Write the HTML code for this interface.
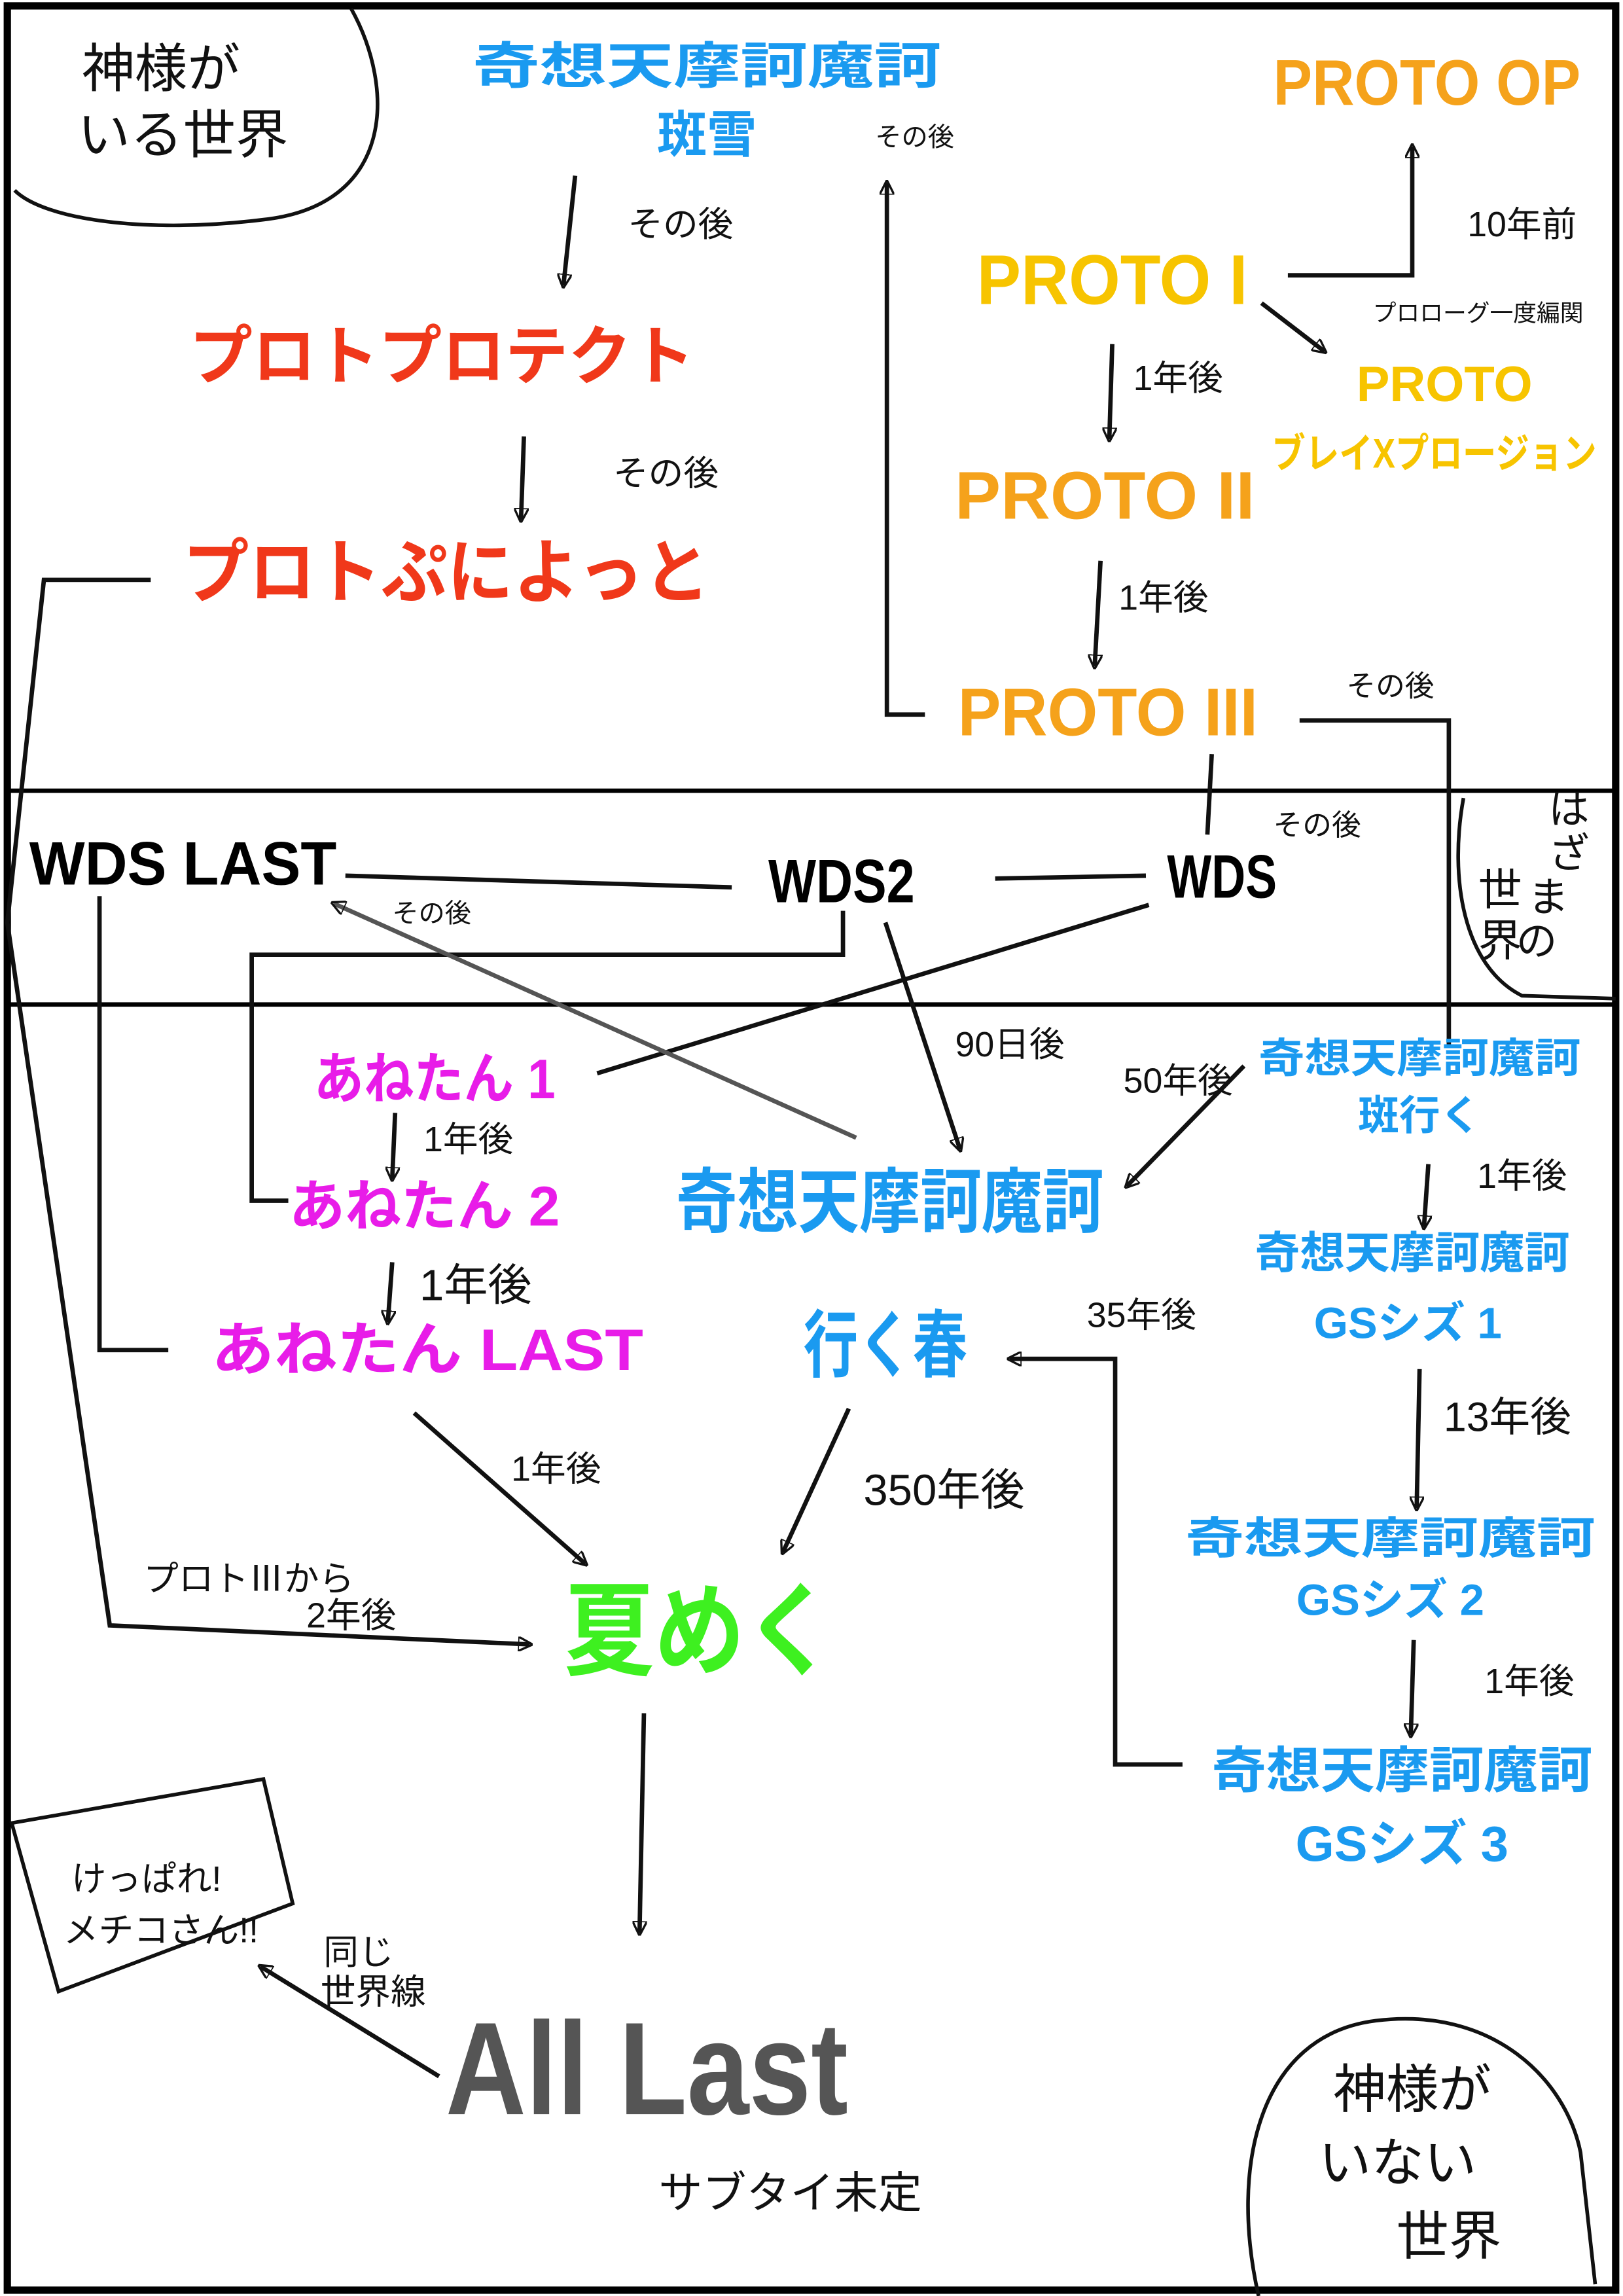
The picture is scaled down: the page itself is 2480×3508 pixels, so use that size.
<!DOCTYPE html>
<html><head><meta charset="utf-8"><style>
html,body{margin:0;padding:0;background:#fff}
svg{display:block}
text{font-family:"Liberation Sans","Noto Sans CJK JP",sans-serif;font-weight:bold;text-anchor:middle;dominant-baseline:middle}
.h{font-weight:normal;fill:#111}
</style></head><body>
<svg width="2480" height="3508" viewBox="0 0 1109 1568" preserveAspectRatio="none" xmlns="http://www.w3.org/2000/svg">
<defs><marker id="a" markerWidth="10" markerHeight="10" refX="8" refY="5" orient="auto" markerUnits="userSpaceOnUse"><path d="M0,0 L10,5 L0,10 Z" fill="none" stroke="#111" stroke-width="1.5"/></marker></defs>
<rect x="0" y="0" width="1109" height="1568" fill="#fff"/>
<rect x="5" y="4" width="1099" height="1560" fill="none" stroke="#000" stroke-width="5"/>
<line x1="5" y1="540" x2="1104" y2="540" stroke="#000" stroke-width="3"/>
<line x1="5" y1="686" x2="1104" y2="686" stroke="#000" stroke-width="3"/>
<g fill="none" stroke="#111" stroke-width="2.5">
<path d="M240,6 C270,60 270,140 180,150 C100,160 30,150 10,130"/>
<path d="M1000,545 C990,600 1000,660 1040,680 L1104,682"/>
<path d="M860,1568 C840,1480 860,1390 940,1380 C1020,1370 1070,1420 1080,1470 L1090,1560"/>
<path d="M8,1245 L180,1215 L200,1300 L40,1360 Z"/>
</g>
<g stroke="#111" stroke-width="3" fill="none" marker-end="url(#a)">
<line x1="393" y1="120" x2="385" y2="195"/>
<line x1="358" y1="298" x2="356" y2="355"/>
<polyline points="880,188 965,188 965,100" />
<line x1="862" y1="207" x2="905" y2="240"/>
<line x1="760" y1="235" x2="758" y2="300"/>
<line x1="752" y1="383" x2="748" y2="455"/>
<polyline points="632,488 606,488 606,125"/>
<line x1="500" y1="606" x2="236" y2="598" marker-end="none"/>
<line x1="680" y1="600" x2="783" y2="598" marker-end="none"/>
<line x1="828" y1="515" x2="825" y2="570" marker-end="none"/>
<polyline points="888,492 990,492 990,715" marker-end="none"/>
<line x1="408" y1="733" x2="785" y2="618" marker-end="none"/>
<polyline points="576,622 576,652 172,652 172,820 197,820" marker-end="none"/>
<line x1="605" y1="630" x2="656" y2="785"/>
<line x1="850" y1="728" x2="770" y2="810"/>
<line x1="585" y1="777" x2="228" y2="617" stroke="#555"/>
<line x1="270" y1="760" x2="268" y2="805"/>
<line x1="268" y1="862" x2="265" y2="903"/>
<polyline points="115,922 68,922 68,612" marker-end="none"/>
<polyline points="103,396 30,396 5,630 75,1110 362,1123"/>
<line x1="283" y1="965" x2="400" y2="1068"/>
<line x1="580" y1="962" x2="535" y2="1060"/>
<line x1="976" y1="795" x2="973" y2="838"/>
<line x1="970" y1="935" x2="968" y2="1030"/>
<line x1="966" y1="1120" x2="964" y2="1185"/>
<polyline points="808,1205 762,1205 762,928 690,928"/>
<line x1="440" y1="1170" x2="437" y2="1320"/>
<line x1="300" y1="1418" x2="178" y2="1343"/>
</g>
<text x="483" y="48" font-size="34" fill="#1a9af0" textLength="320" lengthAdjust="spacingAndGlyphs">奇想天摩訶魔訶</text>
<text x="483" y="95" font-size="34" fill="#1a9af0">斑雪</text>
<text x="975" y="60" font-size="44" fill="#f5a21b" textLength="210" lengthAdjust="spacingAndGlyphs">PROTO OP</text>
<text x="760" y="195" font-size="48" fill="#f7c400" textLength="185" lengthAdjust="spacingAndGlyphs">PROTO I</text>
<text x="987" y="265" font-size="34" fill="#f7c400">PROTO</text>
<text x="980" y="312" font-size="28" fill="#f7c400" font-weight="normal" textLength="222" lengthAdjust="spacingAndGlyphs">ブレイXプロージョン</text>
<text x="755" y="342" font-size="46" fill="#f5a21b" textLength="205" lengthAdjust="spacingAndGlyphs">PROTO II</text>
<text x="757" y="490" font-size="46" fill="#f5a21b" textLength="205" lengthAdjust="spacingAndGlyphs">PROTO III</text>
<text x="302" y="247" font-size="44" fill="#f0381a" textLength="345" lengthAdjust="spacingAndGlyphs">プロトプロテクト</text>
<text x="305" y="395" font-size="48" fill="#f0381a" textLength="360" lengthAdjust="spacingAndGlyphs">プロトぷによっと</text>
<text x="125" y="593" font-size="42" fill="#000" textLength="210" lengthAdjust="spacingAndGlyphs">WDS LAST</text>
<text x="575" y="605" font-size="42" fill="#000" textLength="100" lengthAdjust="spacingAndGlyphs">WDS2</text>
<text x="835" y="602" font-size="42" fill="#000" textLength="75" lengthAdjust="spacingAndGlyphs">WDS</text>
<text x="297" y="740" font-size="38" fill="#e81ce8" textLength="165" lengthAdjust="spacingAndGlyphs">あねたん 1</text>
<text x="290" y="827" font-size="38" fill="#e81ce8" textLength="185" lengthAdjust="spacingAndGlyphs">あねたん 2</text>
<text x="292" y="925" font-size="40" fill="#e81ce8" textLength="295" lengthAdjust="spacingAndGlyphs">あねたん LAST</text>
<text x="608" y="825" font-size="48" fill="#1a9af0" textLength="292" lengthAdjust="spacingAndGlyphs">奇想天摩訶魔訶</text>
<text x="605" y="923" font-size="50" fill="#1a9af0" textLength="112" lengthAdjust="spacingAndGlyphs">行く春</text>
<text x="970" y="725" font-size="28" fill="#1a9af0" textLength="220" lengthAdjust="spacingAndGlyphs">奇想天摩訶魔訶</text>
<text x="970" y="764" font-size="28" fill="#1a9af0">斑行く</text>
<text x="965" y="858" font-size="30" fill="#1a9af0" textLength="215" lengthAdjust="spacingAndGlyphs">奇想天摩訶魔訶</text>
<text x="962" y="906" font-size="30" fill="#1a9af0">GSシズ 1</text>
<text x="950" y="1053" font-size="30" fill="#1a9af0" textLength="280" lengthAdjust="spacingAndGlyphs">奇想天摩訶魔訶</text>
<text x="950" y="1095" font-size="30" fill="#1a9af0">GSシズ 2</text>
<text x="958" y="1212" font-size="34" fill="#1a9af0" textLength="260" lengthAdjust="spacingAndGlyphs">奇想天摩訶魔訶</text>
<text x="958" y="1262" font-size="34" fill="#1a9af0">GSシズ 3</text>
<text x="478" y="1120" font-size="70" fill="#3ef020" textLength="185" lengthAdjust="spacingAndGlyphs">夏めく</text>
<text x="442" y="1420" font-size="90" fill="#555" textLength="275" lengthAdjust="spacingAndGlyphs">All Last</text>
<g class="h" font-size="24">
<text class="h" x="110" y="50" font-size="36">神様が</text>
<text class="h" x="125" y="95" font-size="36">いる世界</text>
<text class="h" x="465" y="155">その後</text>
<text class="h" x="455" y="325">その後</text>
<text class="h" x="625" y="95" font-size="18">その後</text>
<text class="h" x="1040" y="155">10年前</text>
<text class="h" x="1010" y="215" font-size="16">プロローグ一度編関</text>
<text class="h" x="805" y="260">1年後</text>
<text class="h" x="795" y="410">1年後</text>
<text class="h" x="950" y="470" font-size="20">その後</text>
<text class="h" x="900" y="565" font-size="20">その後</text>
<text class="h" x="295" y="625" font-size="18">その後</text>
<text class="h" x="1072" y="555" font-size="28">は</text>
<text class="h" x="1072" y="585" font-size="28">ざ</text>
<text class="h" x="1058" y="615" font-size="28">ま</text>
<text class="h" x="1050" y="645" font-size="28">の</text>
<text class="h" x="1025" y="610" font-size="30">世</text>
<text class="h" x="1025" y="645" font-size="30">界</text>
<text class="h" x="690" y="715">90日後</text>
<text class="h" x="805" y="740">50年後</text>
<text class="h" x="320" y="780">1年後</text>
<text class="h" x="325" y="880" font-size="30">1年後</text>
<text class="h" x="1040" y="805">1年後</text>
<text class="h" x="780" y="900">35年後</text>
<text class="h" x="1030" y="970" font-size="28">13年後</text>
<text class="h" x="380" y="1005">1年後</text>
<text class="h" x="645" y="1020" font-size="30">350年後</text>
<text class="h" x="1045" y="1150">1年後</text>
<text class="h" x="170" y="1080">プロトⅢから</text>
<text class="h" x="240" y="1105">2年後</text>
<text class="h" x="100" y="1285">けっぱれ!</text>
<text class="h" x="110" y="1320">メチコさん!!</text>
<text class="h" x="245" y="1335">同じ</text>
<text class="h" x="255" y="1362">世界線</text>
<text class="h" x="540" y="1500" font-size="30">サブタイ未定</text>
<text class="h" x="965" y="1430" font-size="36">神様が</text>
<text class="h" x="955" y="1480" font-size="36">いない</text>
<text class="h" x="990" y="1530" font-size="36">世界</text>
</g>
</svg>
</body></html>
